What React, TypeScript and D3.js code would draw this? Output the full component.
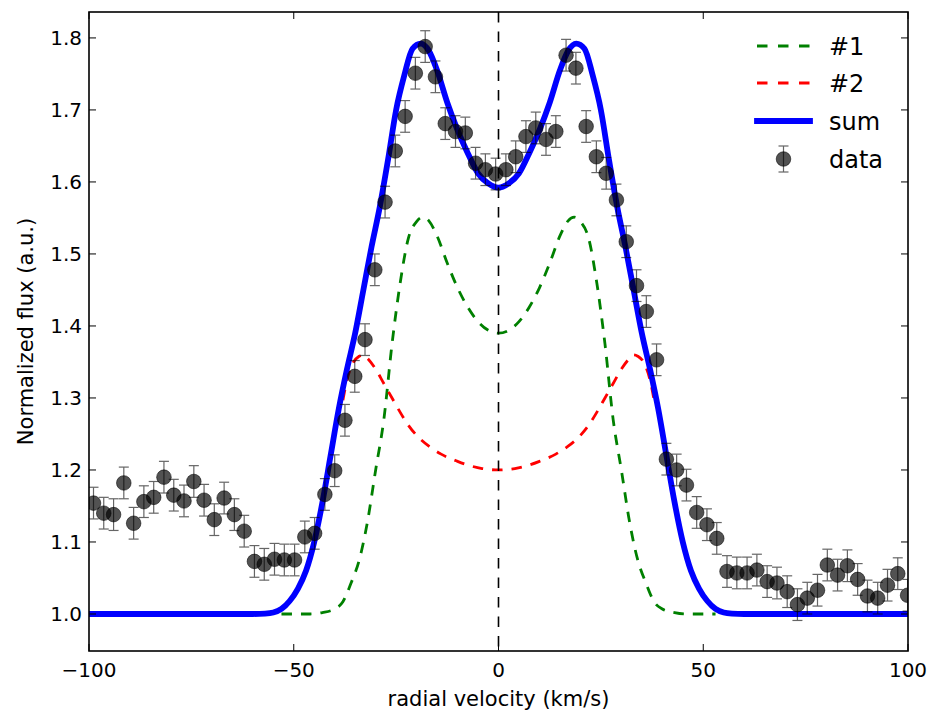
import React from 'react';
import * as d3 from 'd3';

// ---- data ----
const velocity = [
  -98.9, -96.4, -94.0, -91.5, -89.1, -86.6, -84.2, -81.7, -79.3, -76.8,
  -74.4, -71.9, -69.4, -67.0, -64.5, -62.1, -59.6, -57.2, -54.7, -52.3,
  -49.8, -47.3, -44.9, -42.4, -40.0, -37.5, -35.1, -32.6, -30.2, -27.7,
  -25.2, -22.8, -20.3, -17.9, -15.4, -13.0, -10.5, -8.1, -5.6, -3.2,
  -0.7, 1.8, 4.2, 6.7, 9.1, 11.6, 14.0, 16.5, 18.9, 21.4,
  23.9, 26.3, 28.8, 31.2, 33.7, 36.1, 38.6, 41.0, 43.5, 45.9,
  48.4, 50.9, 53.3, 55.8, 58.2, 60.7, 63.1, 65.6, 68.0, 70.5,
  73.0, 75.4, 77.9, 80.3, 82.8, 85.2, 87.7, 90.1, 92.6, 95.0,
  97.5, 99.9,
];
const flux = [
  1.154, 1.140, 1.138, 1.182, 1.126, 1.156, 1.162, 1.190, 1.165, 1.157,
  1.184, 1.158, 1.131, 1.161, 1.138, 1.115, 1.073, 1.069, 1.076, 1.075,
  1.075, 1.107, 1.112, 1.166, 1.199, 1.269, 1.330, 1.381, 1.478, 1.572,
  1.643, 1.691, 1.751, 1.788, 1.746, 1.681, 1.670, 1.668, 1.626, 1.617,
  1.611, 1.617, 1.635, 1.663, 1.675, 1.659, 1.670, 1.776, 1.758, 1.677,
  1.635, 1.612, 1.575, 1.517, 1.456, 1.420, 1.353, 1.215, 1.200, 1.179,
  1.141, 1.124, 1.105, 1.059, 1.057, 1.057, 1.061, 1.045, 1.043, 1.031,
  1.013, 1.022, 1.033, 1.068, 1.054, 1.067, 1.048, 1.025, 1.022, 1.040,
  1.056, 1.026,
];
const fluxErr = 0.022;

const comp1Vel = [
  -53, -46, -43, -40, -38, -36, -34, -32, -30, -28, -26, -24, -22, -20, -18.5, -17, -15, -12.5, -10, -7.5, -5, -2.5, 0,
  2.5, 5, 7.5, 10, 12.5, 15, 17, 18.5, 20, 22, 24, 26, 28, 30, 32, 34, 36, 38, 40, 43, 46, 53,
];
const comp1Flux = [
  1.0, 1.0, 1.002, 1.007, 1.017, 1.043, 1.075, 1.128, 1.2, 1.27, 1.375, 1.46, 1.522, 1.545, 1.551, 1.546, 1.525, 1.487, 1.453, 1.426, 1.406, 1.394, 1.39,
  1.394, 1.406, 1.426, 1.453, 1.487, 1.525, 1.546, 1.551, 1.545, 1.522, 1.46, 1.375, 1.27, 1.2, 1.128, 1.075, 1.043, 1.017, 1.007, 1.002, 1.0, 1.0,
];

const comp2Vel = [
  -38, -37, -35.5, -34, -33, -32, -30, -28, -26, -24, -22, -20, -17, -14, -10, -7, -4, 0,
  4, 7, 10, 14, 17, 20, 22, 24, 26, 28, 30, 32, 33, 34, 35.5, 37, 38,
];
const comp2Flux = [
  1.297, 1.325, 1.349, 1.358, 1.36, 1.355, 1.34, 1.32, 1.3, 1.28, 1.262, 1.248, 1.233, 1.222, 1.212, 1.206, 1.202, 1.2,
  1.202, 1.206, 1.212, 1.222, 1.233, 1.248, 1.262, 1.28, 1.3, 1.32, 1.34, 1.355, 1.36, 1.358, 1.349, 1.325, 1.297,
];

const sumVel = [
  -100, -60, -57, -55, -53, -51, -49, -47, -45, -43, -41, -39, -37, -35, -33, -31, -29, -27, -25, -23, -21, -19, -17, -15, -12.5, -10, -7.5, -5, -2.5, 0,
  2.5, 5, 7.5, 10, 12.5, 15, 17, 19, 21, 23, 25, 27, 29, 31, 33, 35, 37, 39, 41, 43, 45, 47, 49, 51, 53, 55, 57, 60, 100,
];
const sumFlux = [
  1.0, 1.0, 1.0005, 1.002, 1.007, 1.018, 1.035, 1.06, 1.1, 1.155, 1.22, 1.285, 1.34, 1.39, 1.45, 1.51, 1.565, 1.63, 1.7, 1.748, 1.785, 1.792, 1.782, 1.755, 1.71, 1.672, 1.64, 1.612, 1.598, 1.592,
  1.598, 1.612, 1.64, 1.672, 1.71, 1.755, 1.782, 1.792, 1.785, 1.748, 1.7, 1.63, 1.565, 1.51, 1.45, 1.39, 1.34, 1.285, 1.22, 1.155, 1.1, 1.06, 1.035, 1.018, 1.007, 1.002, 1.0005, 1.0, 1.0,
];

const xTicks = [-100, -50, 0, 50, 100];
const yTicks = [1.0, 1.1, 1.2, 1.3, 1.4, 1.5, 1.6, 1.7, 1.8];
const legendLabels = ['#1', '#2', 'sum', 'data'];
const xLabel = 'radial velocity (km/s)';
const yLabel = 'Normalized flux (a.u.)';

const FONT = '"DejaVu Sans", sans-serif';

export default function App() {
  const W = 927, H = 715;
  const L = 89, R = 908, T = 12, B = 651;
  const x = d3.scaleLinear().domain([-100, 100]).range([L, R]);
  const y = d3.scaleLinear().domain([0.9486, 1.836]).range([B, T]);

  const line = d3
    .line<[number, number]>()
    .x((d) => x(d[0]))
    .y((d) => y(d[1]))
    .curve(d3.curveMonotoneX);

  const zip = (a: number[], b: number[]) => a.map((v, i) => [v, b[i]] as [number, number]);

  const dash = '10.5,9';
  const tickLen = 7;
  const legendY = [46, 83, 121, 159];
  const lx0 = 757, lx1 = 810, ltx = 829;

  const fmtX = (v: number) => (v < 0 ? '\u2212' + Math.abs(v) : String(v));

  return (
    <svg width={W} height={H} style={{ position: 'absolute', left: 0, top: 0, background: '#fff' }} fontFamily={FONT}>
      <defs>
        <clipPath id="plotClip">
          <rect x={L} y={T} width={R - L} height={B - T} />
        </clipPath>
      </defs>
      <rect x={0} y={0} width={W} height={H} fill="#fff" />

      <g clipPath="url(#plotClip)">
        <path d={line(zip(comp1Vel, comp1Flux)) || ''} fill="none" stroke="#008000" strokeWidth={2.8} strokeDasharray={dash} />
        <path d={line(zip(comp2Vel, comp2Flux)) || ''} fill="none" stroke="#ff0000" strokeWidth={2.8} strokeDasharray={dash} />
        <path d={line(zip(sumVel, sumFlux)) || ''} fill="none" stroke="#0000ff" strokeWidth={5.8} strokeLinejoin="round" />
        {velocity.map((v, i) => {
          const cx = x(v);
          const y0 = y(flux[i] - fluxErr);
          const y1 = y(flux[i] + fluxErr);
          return (
            <g key={i} opacity={0.6}>
              <line x1={cx} x2={cx} y1={y0} y2={y1} stroke="#000" strokeWidth={1.2} />
              <line x1={cx - 5} x2={cx + 5} y1={y0} y2={y0} stroke="#000" strokeWidth={1.2} />
              <line x1={cx - 5} x2={cx + 5} y1={y1} y2={y1} stroke="#000" strokeWidth={1.2} />
            </g>
          );
        })}
        {velocity.map((v, i) => (
          <circle key={'m' + i} cx={x(v)} cy={y(flux[i])} r={7.3} fill="#000" fillOpacity={0.68} stroke="#000" strokeOpacity={0.68} strokeWidth={0.8} />
        ))}
        <line x1={x(0)} x2={x(0)} y1={T} y2={B} stroke="#000" strokeWidth={1.6} strokeDasharray={dash} />
      </g>

      {xTicks.map((t) => (
        <g key={'xt' + t}>
          <line x1={x(t)} x2={x(t)} y1={B} y2={B - tickLen} stroke="#000" strokeWidth={1} />
          <line x1={x(t)} x2={x(t)} y1={T} y2={T + tickLen} stroke="#000" strokeWidth={1} />
          <text x={x(t)} y={677} textAnchor="middle" fontSize={20} fill="#000">{fmtX(t)}</text>
        </g>
      ))}
      {yTicks.map((t) => (
        <g key={'yt' + t}>
          <line x1={L} x2={L + tickLen} y1={y(t)} y2={y(t)} stroke="#000" strokeWidth={1} />
          <line x1={R} x2={R - tickLen} y1={y(t)} y2={y(t)} stroke="#000" strokeWidth={1} />
          <text x={82} y={y(t) + 7.3} textAnchor="end" fontSize={20} fill="#000">{t.toFixed(1)}</text>
        </g>
      ))}

      <rect x={L} y={T} width={R - L} height={B - T} fill="none" stroke="#000" strokeWidth={1.6} />

      <text x={(L + R) / 2} y={706} textAnchor="middle" fontSize={21} fill="#000">{xLabel}</text>
      <text transform={`translate(33,${(T + B) / 2}) rotate(-90)`} textAnchor="middle" fontSize={21} fill="#000">{yLabel}</text>

      <line x1={lx0} x2={lx1} y1={legendY[0]} y2={legendY[0]} stroke="#008000" strokeWidth={2.8} strokeDasharray="10.5,10.5" />
      <line x1={lx0} x2={lx1} y1={legendY[1]} y2={legendY[1]} stroke="#ff0000" strokeWidth={2.8} strokeDasharray="10.5,10.5" />
      <line x1={lx0} x2={lx1} y1={legendY[2]} y2={legendY[2]} stroke="#0000ff" strokeWidth={5.8} strokeLinecap="square" />
      <g opacity={0.6}>
        <line x1={(lx0 + lx1) / 2} x2={(lx0 + lx1) / 2} y1={legendY[3] - 13} y2={legendY[3] + 13} stroke="#000" strokeWidth={1.2} />
        <line x1={(lx0 + lx1) / 2 - 5} x2={(lx0 + lx1) / 2 + 5} y1={legendY[3] - 13} y2={legendY[3] - 13} stroke="#000" strokeWidth={1.2} />
        <line x1={(lx0 + lx1) / 2 - 5} x2={(lx0 + lx1) / 2 + 5} y1={legendY[3] + 13} y2={legendY[3] + 13} stroke="#000" strokeWidth={1.2} />
      </g>
      <circle cx={(lx0 + lx1) / 2} cy={legendY[3]} r={7.3} fill="#000" fillOpacity={0.68} stroke="#000" strokeOpacity={0.68} strokeWidth={0.8} />
      {legendLabels.map((lab, i) => (
        <text key={lab} x={ltx} y={legendY[i] + 8.7} fontSize={24} fill="#000">{lab}</text>
      ))}
    </svg>
  );
}
